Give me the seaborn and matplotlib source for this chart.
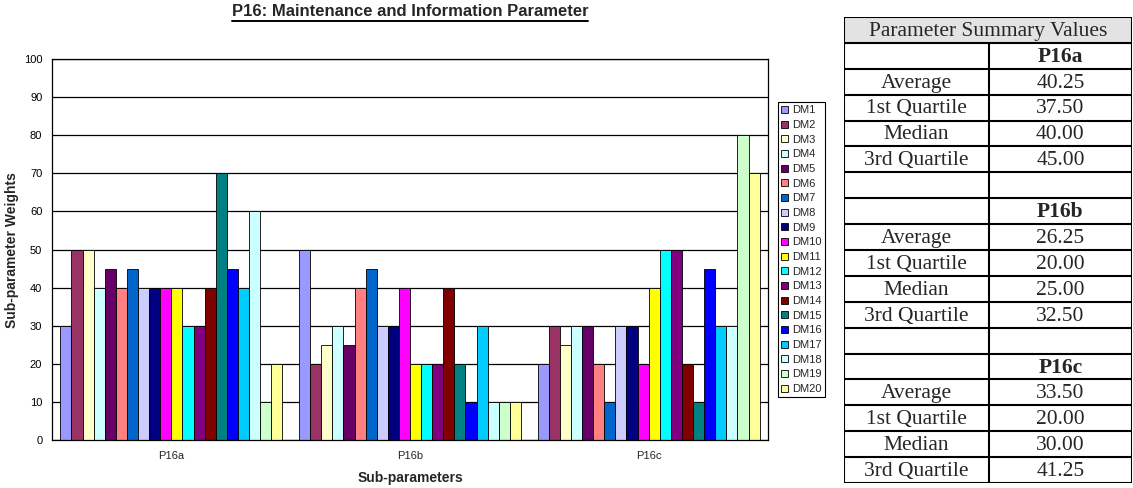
"""
P16: Maintenance and Information Parameter - grouped bars + summary table
"""

import numpy as np
import pandas as pd
import matplotlib
matplotlib.use("Agg")
import matplotlib.pyplot as plt
import seaborn as sns
from matplotlib.lines import Line2D
from matplotlib.patches import Rectangle

# data
params = ["P16a", "P16b", "P16c"]
members = ["DM%d" % i for i in range(1, 21)]
p16a = [30, 50, 50, 40, 45, 40, 45, 40, 40, 40, 40, 30, 30, 40, 70, 45, 40, 60, 10, 20]
p16b = [50, 20, 25, 30, 25, 40, 45, 30, 30, 40, 20, 20, 20, 40, 20, 10, 30, 10, 10, 10]
p16c = [20, 30, 25, 30, 30, 20, 10, 30, 30, 20, 40, 50, 50, 20, 10, 45, 30, 30, 80, 70]
stat_names = ["Average", "1st Quartile", "Median", "3rd Quartile"]

# old excel chart palette
dm_colors = ["#9999FF", "#993366", "#FFFFCC", "#CCFFFF", "#660066", "#FF8080",
             "#0066CC", "#CCCCFF", "#000080", "#FF00FF", "#FFFF00", "#00FFFF",
             "#800080", "#800000", "#008080", "#0000FF", "#00CCFF", "#CCFFFF",
             "#CCFFCC", "#FFFF99"]

df = pd.DataFrame({
    "param": np.repeat(params, len(members)),
    "member": members * len(params),
    "weight": p16a + p16b + p16c,
})

sns.set_style("white")
plt.rcParams["font.family"] = ["Liberation Sans", "DejaVu Sans"]

W, H = 1133, 488
fig = plt.figure(figsize=(W / 100, H / 100), dpi=100)
ax = fig.add_axes([52 / W, 1 - 440 / H, (768 - 52) / W, (440 - 59) / H])

sns.barplot(data=df, x="param", y="weight", hue="member", hue_order=members,
            palette=dm_colors, saturation=1, width=0.93, gap=0,
            edgecolor="black", linewidth=0.6, errorbar=None, ax=ax)

ax.set_ylim(0, 100)
ax.set_xlim(-0.5, 2.5)
ax.set_yticks(range(0, 101, 10))
ax.set_yticks(range(5, 100, 10), minor=True)
ax.yaxis.grid(True, which="major", color="black", linewidth=0.9)
ax.set_axisbelow(True)
ax.tick_params(axis="y", which="major", direction="inout", length=7, width=0.8,
               labelsize=8, pad=3.5, colors="black")
ax.tick_params(axis="y", which="minor", direction="in", length=2.5, width=0.8)
ax.set_xticks([-0.5, 0.5, 1.5, 2.5], minor=True)
ax.tick_params(axis="x", which="minor", direction="out", length=3, width=0.8)
ax.tick_params(axis="x", which="major", length=0, labelsize=8, pad=8)
for s in ax.spines.values():
    s.set_color("black")
    s.set_linewidth(0.9)
ax.set_xlabel("")
ax.set_ylabel("")

handles, labels = ax.get_legend_handles_labels()
ax.legend(handles, labels, loc="upper left",
          bbox_to_anchor=(778 / W, 1 - 102 / H), bbox_transform=fig.transFigure,
          fontsize=8, frameon=True, fancybox=False, edgecolor="black",
          framealpha=1, handlelength=0.6, handleheight=0.6, handletextpad=0.35,
          labelspacing=0.42, borderpad=0.3, borderaxespad=0)
ax.get_legend().get_frame().set_linewidth(0.8)

fig.text(410 / W, 1 - 478 / H, "Sub-parameters", ha="center", va="center",
         fontsize=10, fontweight="bold")
fig.text(12 / W, 1 - 250 / H, "Sub-parameter Weights", ha="center", va="center",
         rotation=90, fontsize=10, fontweight="bold")
title = fig.text(410 / W, 1 - 16 / H, "P16: Maintenance and Information Parameter",
                 ha="center", va="baseline", fontsize=12, fontweight="bold")

# underline the title
fig.canvas.draw()
bb = title.get_window_extent().transformed(fig.transFigure.inverted())
fig.add_artist(Line2D([bb.x0, bb.x1], [1 - 20.5 / H, 1 - 20.5 / H],
                      transform=fig.transFigure, color="black", linewidth=1.4))

# summary table
rows = [("Parameter Summary Values", None, "header")]
for i, (name, vals) in enumerate(zip(params, [p16a, p16b, p16c])):
    if i > 0:
        rows.append(("", "", "blank"))
    rows.append(("", name, "name"))
    v = np.array(vals, dtype=float)
    stats = [v.mean(), np.percentile(v, 25), np.median(v), np.percentile(v, 75)]
    for sname, sval in zip(stat_names, stats):
        rows.append((sname, "%.2f" % sval, "stat"))

tab = fig.add_axes([844 / W, 1 - 483 / H, (1132 - 844) / W, (483 - 17) / H])
tab.set_xlim(0, 1)
tab.set_ylim(len(rows), 0)
tab.axis("off")
split = 0.503
serif = ["Liberation Serif", "DejaVu Serif"]
tab.add_patch(Rectangle((0, 0), 1, 1, facecolor="#E3E3E3", edgecolor="none"))
for r, (left, right, kind) in enumerate(rows):
    yc = r + 0.55
    if kind == "header":
        tab.text(0.5, yc, left, ha="center", va="center", fontsize=15.5, family=serif)
        continue
    tab.text(split / 2, yc, left, ha="center", va="center", fontsize=15.5, family=serif)
    tab.text((1 + split) / 2, yc, right, ha="center", va="center", fontsize=15.5,
             family=serif, fontweight="bold" if kind == "name" else "normal")
for r in range(len(rows) + 1):
    tab.plot([0, 1], [r, r], color="black", linewidth=1.5, solid_capstyle="projecting")
tab.plot([0, 0], [0, len(rows)], color="black", linewidth=1.5)
tab.plot([1, 1], [0, len(rows)], color="black", linewidth=1.5)
tab.plot([split, split], [1, len(rows)], color="black", linewidth=1.5)

fig.savefig("out.png", dpi=100)
